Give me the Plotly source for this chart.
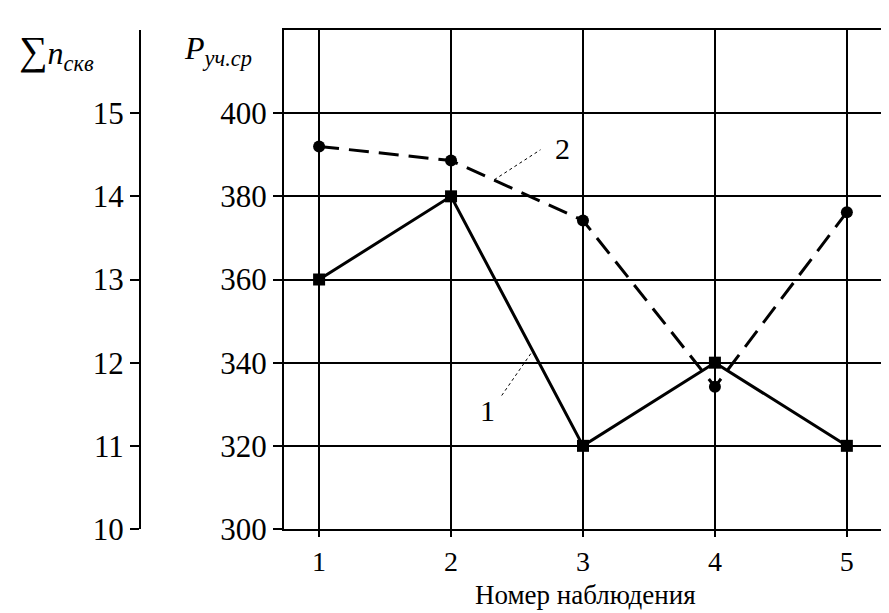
import plotly.graph_objects as go

obs = [1, 2, 3, 4, 5]
p_series1 = [360, 380, 320, 340, 320]
p_series2 = [392, 388.6, 374.2, 334.2, 376.2]
p_ticks = [300, 320, 340, 360, 380, 400]
n_ticks = [10, 11, 12, 13, 14, 15]
x_title = "Номер наблюдения"

FONT = "Times New Roman, Liberation Serif, Tinos, serif"
W, H = 889, 613
L, T, B = 0, 22, 92
x_dom0 = 276 / W
outer_pos = 132 / W
PH = H - T - B

fig = go.Figure()
fig.add_trace(go.Scatter(x=obs, y=p_series1, mode="lines+markers",
                         line=dict(color="black", width=3),
                         marker=dict(symbol="square", size=12, color="black"),
                         showlegend=False))
fig.add_trace(go.Scatter(x=obs, y=p_series2, mode="lines+markers",
                         line=dict(color="black", width=3, dash="20px,10px"),
                         marker=dict(symbol="circle", size=12, color="black"),
                         showlegend=False))
fig.add_trace(go.Scatter(x=[obs[0]], y=[n_ticks[0]], yaxis="y2", mode="markers",
                         marker=dict(opacity=0), showlegend=False, hoverinfo="skip"))

fig.update_layout(
    width=W, height=H,
    margin=dict(l=L, r=0, t=T, b=B),
    plot_bgcolor="white", paper_bgcolor="white",
    font=dict(family=FONT, size=31, color="black"),
    xaxis=dict(domain=[x_dom0, 1], range=[0.734, 5.38], tickvals=obs,
               showgrid=True, gridcolor="black", gridwidth=1.5,
               showline=True, linecolor="black", linewidth=2, mirror=True,
               ticks="outside", ticklen=6, tickwidth=1.5, tickcolor="black",
               tickfont=dict(size=28), zeroline=False),
    yaxis=dict(range=[300, 420], tickvals=p_ticks,
               showgrid=True, gridcolor="black", gridwidth=1.5,
               showline=True, linecolor="black", linewidth=2,
               ticks="outside", ticklen=9, tickwidth=1.5, tickcolor="black",
               zeroline=False),
    yaxis2=dict(range=[10, 16], tickvals=n_ticks, overlaying="y", anchor="free",
                position=outer_pos, side="left", showgrid=False,
                showline=True, linecolor="black", linewidth=2,
                ticks="outside", ticklen=9, tickwidth=1.5, tickcolor="black",
                zeroline=False),
)

ann = [
    dict(text="<span style='font-size:40px'>∑</span><i>n<sub>скв</sub></i>", x=10 / W, y=(521 - 44) / PH, xanchor="left", yanchor="middle", size=32),
    dict(text="<i>P<sub>уч.ср</sub></i>", x=175 / W, y=(521 - 42) / PH, xanchor="left", yanchor="middle", size=32),
    dict(text=x_title, x=577 / W, y=(521 - 587) / PH, xanchor="center", yanchor="middle", size=27),
]
for a in ann:
    size = a.pop("size")
    fig.add_annotation(xref="paper", yref="paper", showarrow=False, borderpad=0,
                       font=dict(family=FONT, size=size, color="black"), **a)

fig.add_annotation(x=2.846, y=391.6, text="2", showarrow=False,
                   font=dict(family=FONT, size=30, color="black"))
fig.add_annotation(x=2.278, y=328.5, text="1", showarrow=False,
                   font=dict(family=FONT, size=30, color="black"))
fig.add_shape(type="line", x0=2.328, y0=384, x1=2.678, y1=391.2,
              line=dict(color="black", width=1, dash="dot"))
fig.add_shape(type="line", x0=2.384, y0=332.1, x1=2.605, y1=342.2,
              line=dict(color="black", width=1, dash="dot"))

fig.write_html("out.html")
